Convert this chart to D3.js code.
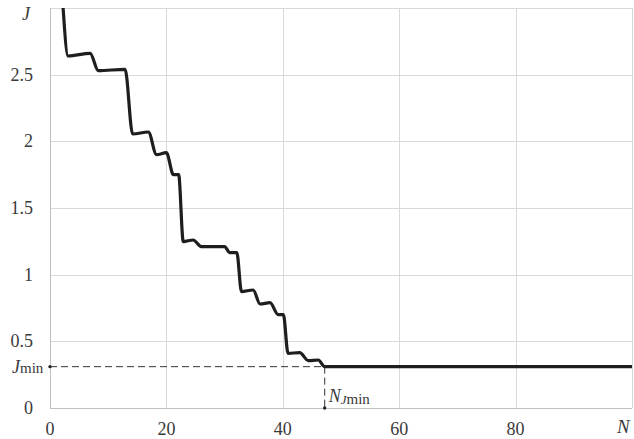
<!DOCTYPE html>
<html>
<head>
<meta charset="utf-8">
<script src="https://cdn.jsdelivr.net/npm/d3@7"></script>
<style>
  body { margin: 0; background: #fff; }
</style>
</head>
<body>
<div id="chart"></div>
<script>
// values
const nValues = [2.25, 3.1, 6.9, 8.3, 12.9, 14.2, 16.9, 18.3, 20.0, 21.2, 22.1, 22.9, 24.6, 26.0, 30.0,
                 30.9, 32.1, 32.9, 34.9, 36.1, 37.8, 39.2, 40.1, 40.9, 42.9, 44.4, 46.1, 47.2, 100];
const jValues = [3.0, 2.64, 2.66, 2.53, 2.54, 2.055, 2.07, 1.90, 1.915, 1.75, 1.75, 1.248, 1.26, 1.21, 1.21,
                 1.165, 1.165, 0.873, 0.885, 0.78, 0.79, 0.70, 0.70, 0.41, 0.415, 0.355, 0.36, 0.31, 0.31];
const xTicks = [0, 20, 40, 60, 80];
const yTicks = [0, 0.5, 1, 1.5, 2, 2.5];
const jMin = 0.31;
const nJMin = 47.2;

const width = 634, height = 439;
const margin = {top: 8, right: 2, bottom: 31, left: 50};
const serif = "'Liberation Serif'";
const textColor = "#3a3a3a";

const svg = d3.select("#chart").append("svg")
    .attr("width", width)
    .attr("height", height);

const x = d3.scaleLinear().domain([0, 100]).range([margin.left, width - margin.right]);
const y = d3.scaleLinear().domain([0, 3]).range([height - margin.bottom, margin.top]);

// grid
const grid = svg.append("g").attr("class", "grid");
grid.selectAll(".vgrid")
    .data(xTicks.slice(1).concat([100]))
    .enter().append("line")
    .attr("x1", d => Math.round(x(d)) + 0.5)
    .attr("x2", d => Math.round(x(d)) + 0.5)
    .attr("y1", y(3))
    .attr("y2", y(0))
    .attr("stroke", "#d9d9d9");
grid.selectAll(".hgrid")
    .data(yTicks.slice(1).concat([3]))
    .enter().append("line")
    .attr("x1", x(0))
    .attr("x2", x(100))
    .attr("y1", d => Math.round(y(d)) + 0.5)
    .attr("y2", d => Math.round(y(d)) + 0.5)
    .attr("stroke", "#d9d9d9");

// axes lines
svg.append("line")
    .attr("x1", Math.round(x(0)) + 0.5).attr("x2", Math.round(x(0)) + 0.5)
    .attr("y1", y(3)).attr("y2", y(0))
    .attr("stroke", "#bfbfbf");
svg.append("line")
    .attr("x1", x(0)).attr("x2", x(100))
    .attr("y1", Math.round(y(0)) + 0.5).attr("y2", Math.round(y(0)) + 0.5)
    .attr("stroke", "#bfbfbf");

// tick labels
svg.selectAll(".xlab")
    .data(xTicks)
    .enter().append("text")
    .attr("x", d => x(d))
    .attr("y", 435)
    .attr("text-anchor", "middle")
    .attr("fill", textColor)
    .style("font-family", serif)
    .style("font-size", "18px")
    .text(d => d);
svg.selectAll(".ylab")
    .data(yTicks)
    .enter().append("text")
    .attr("x", 33)
    .attr("y", d => y(d) + 6)
    .attr("text-anchor", "end")
    .attr("fill", textColor)
    .style("font-family", serif)
    .style("font-size", "18px")
    .text(d => d);

// axis titles
svg.append("text")
    .attr("x", 22).attr("y", 20)
    .attr("fill", textColor)
    .style("font-family", serif)
    .style("font-size", "18px").style("font-style", "italic")
    .text("J");
svg.append("text")
    .attr("x", 617).attr("y", 433)
    .attr("fill", textColor)
    .style("font-family", serif)
    .style("font-size", "19px").style("font-style", "italic")
    .text("N");

// Jmin and NJmin guides
const guide = svg.append("g");
guide.append("line")
    .attr("x1", x(0)).attr("x2", x(nJMin))
    .attr("y1", y(jMin)).attr("y2", y(jMin))
    .attr("stroke", "#333").attr("stroke-dasharray", "7,4");
guide.append("line")
    .attr("x1", x(nJMin)).attr("x2", x(nJMin))
    .attr("y1", y(jMin)).attr("y2", y(0))
    .attr("stroke", "#333").attr("stroke-dasharray", "7,4");
guide.append("circle").attr("cx", x(0)).attr("cy", y(jMin)).attr("r", 1.7).attr("fill", "#222");
guide.append("circle").attr("cx", x(nJMin)).attr("cy", y(0)).attr("r", 1.7).attr("fill", "#222");

const jl = svg.append("text")
    .attr("x", 12).attr("y", y(jMin) + 6)
    .attr("fill", textColor)
    .style("font-family", serif)
    .style("font-size", "18px");
jl.append("tspan").style("font-style", "italic").text("J");
jl.append("tspan").style("font-size", "15px").text("min");

const nl = svg.append("text")
    .attr("x", x(nJMin) + 4).attr("y", 402)
    .attr("fill", textColor)
    .style("font-family", serif)
    .style("font-size", "18px");
nl.append("tspan").style("font-style", "italic").text("N");
nl.append("tspan").style("font-style", "italic").style("font-size", "13px").attr("dy", 2).text("J");
nl.append("tspan").style("font-size", "15px").text("min");

// curve
const pts = nValues.map((n, i) => [n, jValues[i]]);
const line = d3.line()
    .x(d => x(d[0]))
    .y(d => y(d[1]))
    .curve(d3.curveMonotoneX);

svg.append("clipPath").attr("id", "clip")
    .append("rect")
    .attr("x", x(0)).attr("y", y(3))
    .attr("width", x(100) - x(0)).attr("height", y(0) - y(3));

svg.append("path")
    .datum(pts)
    .attr("clip-path", "url(#clip)")
    .attr("d", line)
    .attr("fill", "none")
    .attr("stroke", "#1e1e1e")
    .attr("stroke-width", 3.2)
    .attr("stroke-linejoin", "round");
</script>
</body>
</html>
